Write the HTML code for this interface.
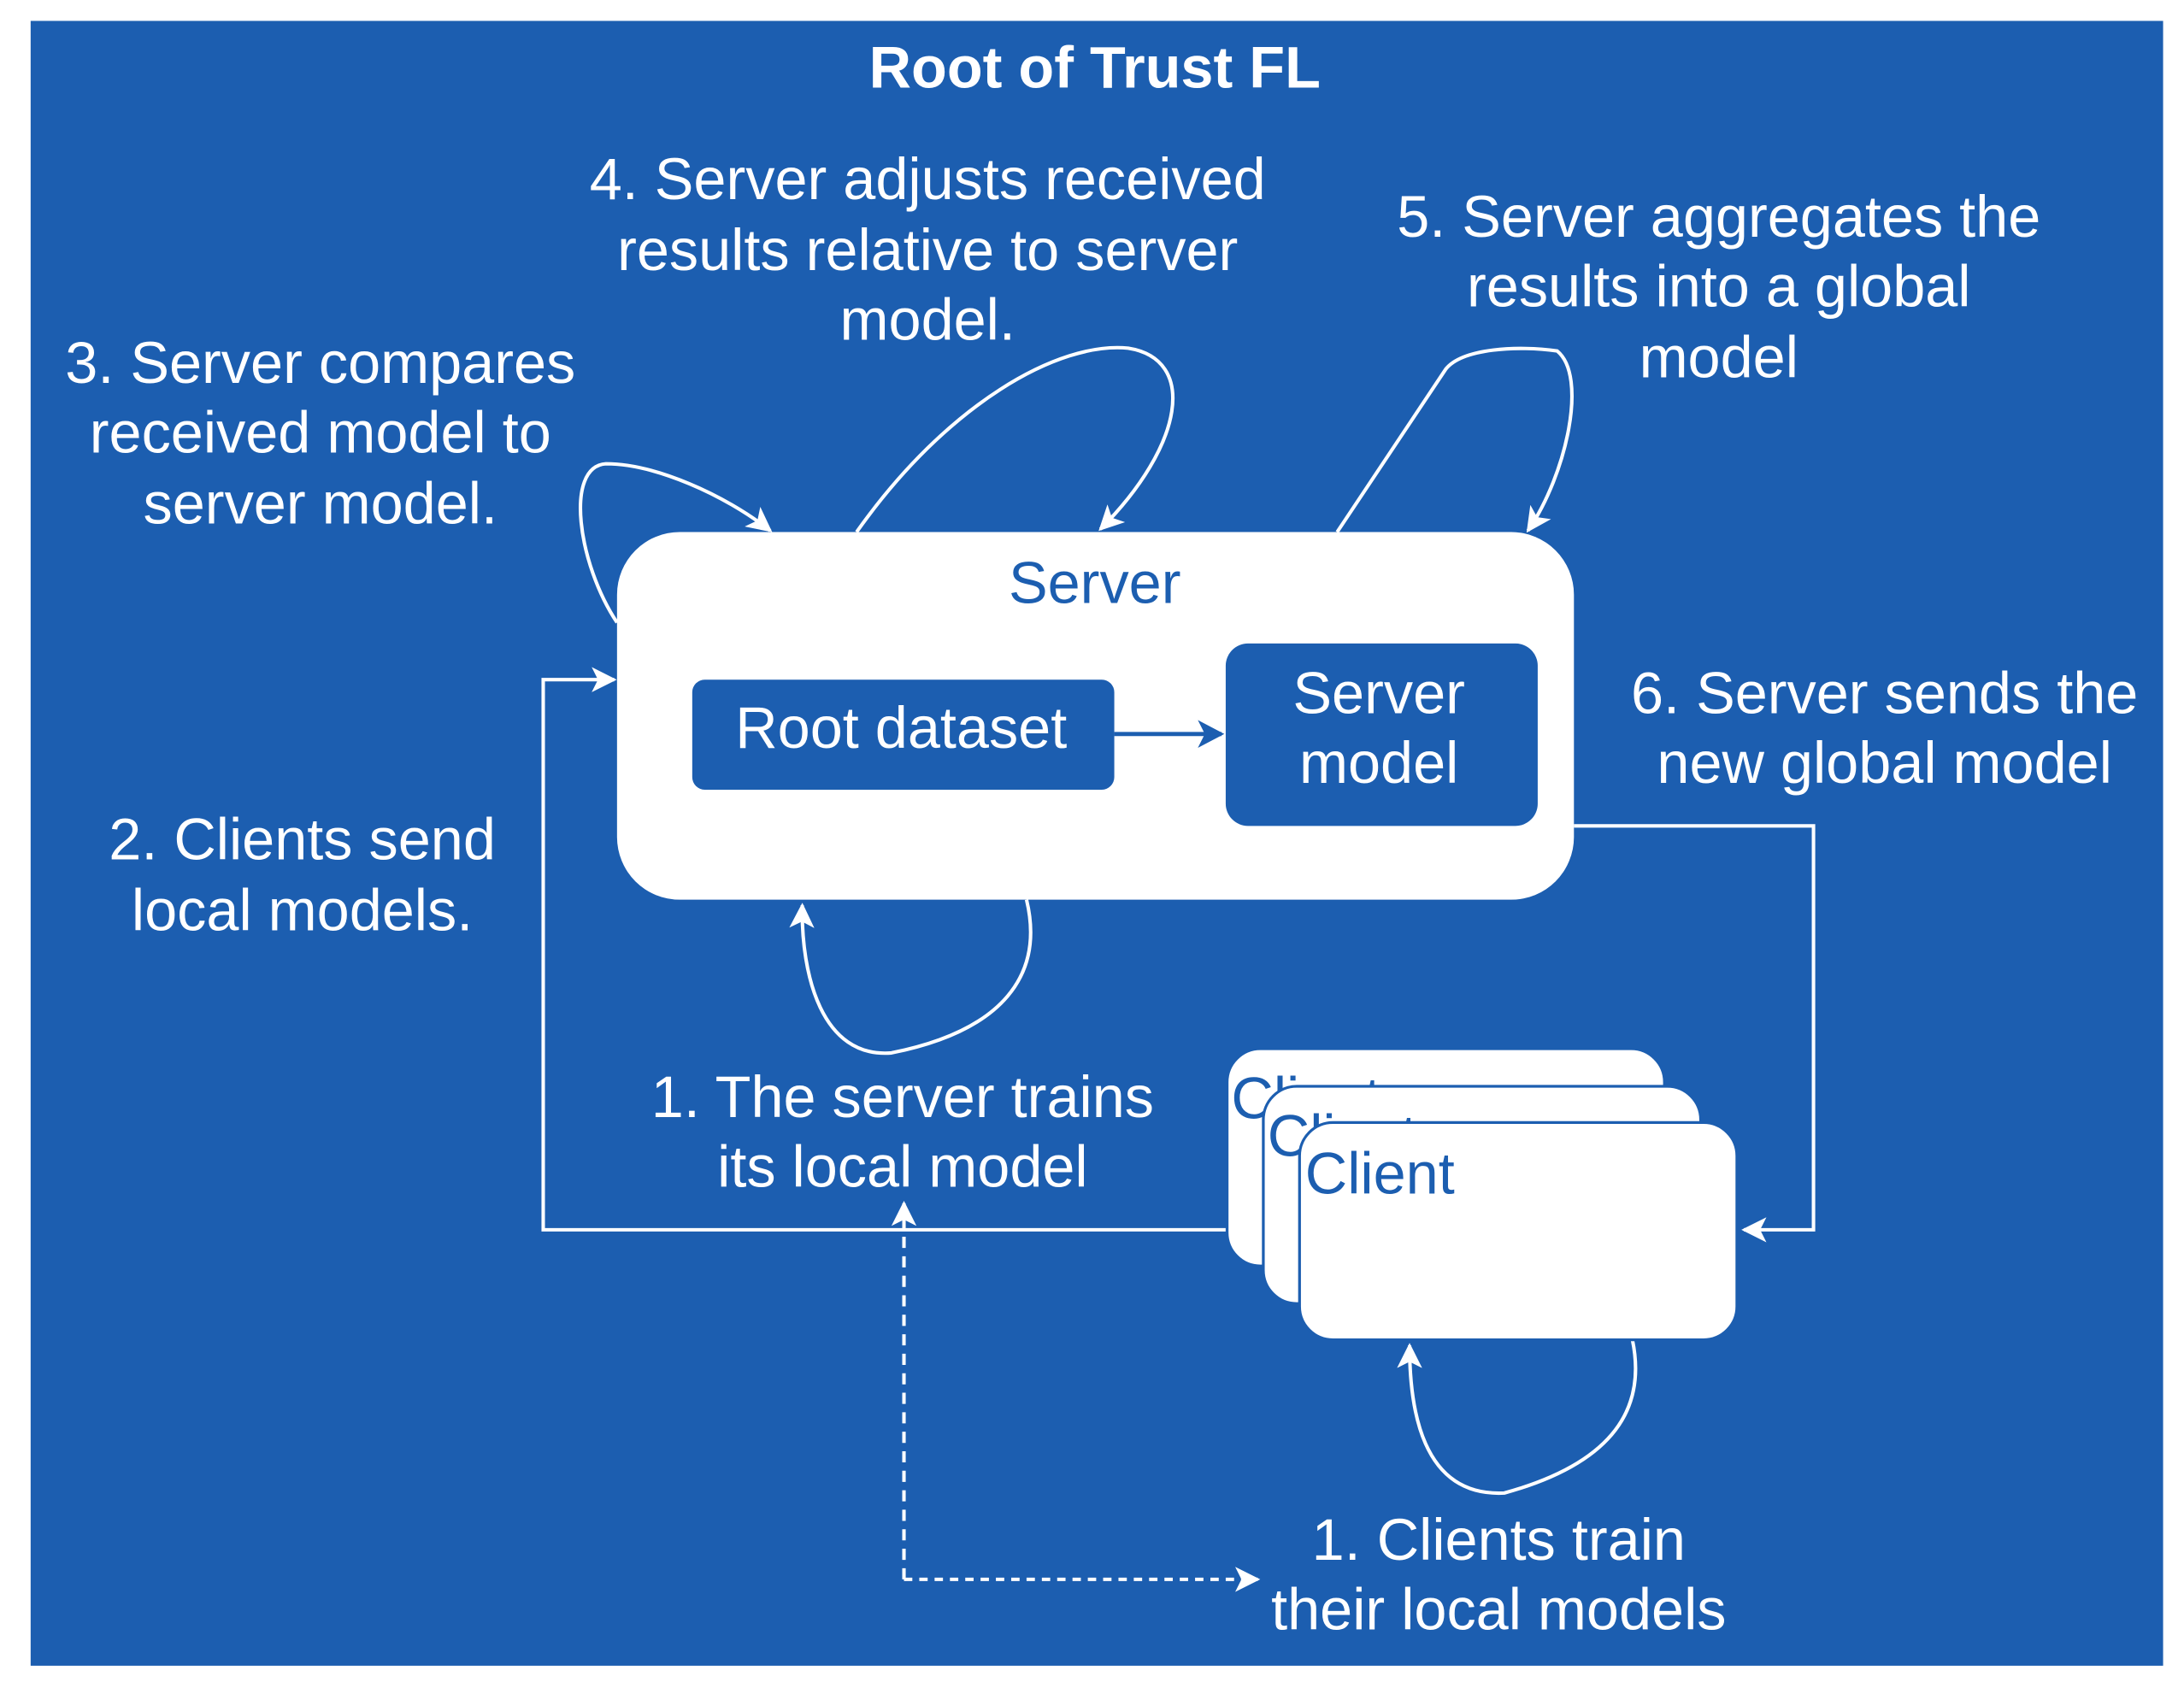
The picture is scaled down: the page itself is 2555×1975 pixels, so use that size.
<!DOCTYPE html>
<html><head><meta charset="utf-8"><style>
html,body{margin:0;padding:0;background:#fff;}
svg{display:block;}
text{font-family:"Liberation Sans",sans-serif;}
</style></head><body>
<svg width="2555" height="1975" viewBox="0 0 1568 1212" preserveAspectRatio="none" xmlns="http://www.w3.org/2000/svg">
<defs>
<marker id="a" viewBox="0 0 20 20" refX="18" refY="10" markerWidth="18" markerHeight="18" markerUnits="userSpaceOnUse" orient="auto">
<path d="M0,0 L20,10 L0,20 L5,10 Z" fill="#fff"/></marker>
</defs>
<rect x="22" y="15" width="1531" height="1181" fill="#1c5eb0"/>
<text x="786" y="63" font-size="42" font-weight="bold" fill="#fff" text-anchor="middle">Root of Trust FL</text>

<g fill="#fff" font-size="42" text-anchor="middle">
<text x="666" y="143">4. Server adjusts received</text>
<text x="666" y="194">results relative to server</text>
<text x="666" y="244">model.</text>
<text x="1234" y="170">5. Server aggregates the</text>
<text x="1234" y="220">results into a global</text>
<text x="1234" y="271">model</text>
<text x="230" y="275">3. Server compares</text>
<text x="230" y="325">received model to</text>
<text x="230" y="376">server model.</text>
<text x="1353" y="512">6. Server sends the</text>
<text x="1353" y="562">new global model</text>
<text x="217" y="617">2. Clients send</text>
<text x="217" y="668">local models.</text>
<text x="648" y="802">1. The server trains</text>
<text x="648" y="852">its local model</text>
<text x="1076" y="1120">1. Clients train</text>
<text x="1076" y="1170">their local models</text>
</g>

<g fill="none" stroke="#fff" stroke-width="2.5">
<path d="M1130,593 L1302,593 L1302,883 L1252,883" marker-end="url(#a)"/>
<path d="M880,883 L390,883 L390,488 L441,488" marker-end="url(#a)"/>
<path d="M649,1134 L649,885 L649,864" stroke-dasharray="8,6" marker-end="url(#a)"/>
<path d="M649,1134 L903,1134" stroke-dasharray="6,5" marker-end="url(#a)"/>
<path d="M443,447 C415,405 405,335 435,333 C470,333 520,355 553,381" marker-end="url(#a)"/>
<path d="M615,382 C680,290 760,245 810,250 C860,258 850,320 790,380" marker-end="url(#a)"/>
<path d="M960,382 L1038,265 C1050,250 1090,248 1118,252 C1140,270 1125,340 1097,381" marker-end="url(#a)"/>
<path d="M737,646 C750,700 720,740 640,756 C590,760 575,700 576,650" marker-end="url(#a)"/>
<path d="M1172,962 C1182,1010 1160,1050 1080,1072 C1020,1075 1012,1010 1012,966" marker-end="url(#a)"/>
</g>

<rect x="443" y="382" width="687" height="264" rx="45" fill="#fff"/>
<text x="786" y="433" font-size="42" fill="#1c5eb0" text-anchor="middle">Server</text>
<rect x="497" y="488" width="303" height="79" rx="9" fill="#1c5eb0"/>
<text x="647" y="537" font-size="42" fill="#fff" text-anchor="middle">Root dataset</text>
<rect x="880" y="462" width="224" height="131" rx="16" fill="#1c5eb0"/>
<text x="990" y="512" font-size="42" fill="#fff" text-anchor="middle">Server</text>
<text x="990" y="562" font-size="42" fill="#fff" text-anchor="middle">model</text>
<path d="M800,527 L877,527" stroke="#1c5eb0" stroke-width="3"/>
<path d="M860,517 L879,527 L860,537 L865,527 Z" fill="#1c5eb0"/>

<g stroke="#1c5eb0" stroke-width="2" fill="#fff">
<rect x="881" y="753" width="314" height="156" rx="24"/>
<text x="884" y="803" font-size="42" fill="#1c5eb0" stroke="none">Client</text>
<rect x="907" y="780" width="314" height="156" rx="24"/>
<text x="910" y="830" font-size="42" fill="#1c5eb0" stroke="none">Client</text>
<rect x="933" y="806" width="314" height="156" rx="24"/>
<text x="937" y="857" font-size="42" fill="#1c5eb0" stroke="none">Client</text>
</g>
</svg>
</body></html>
